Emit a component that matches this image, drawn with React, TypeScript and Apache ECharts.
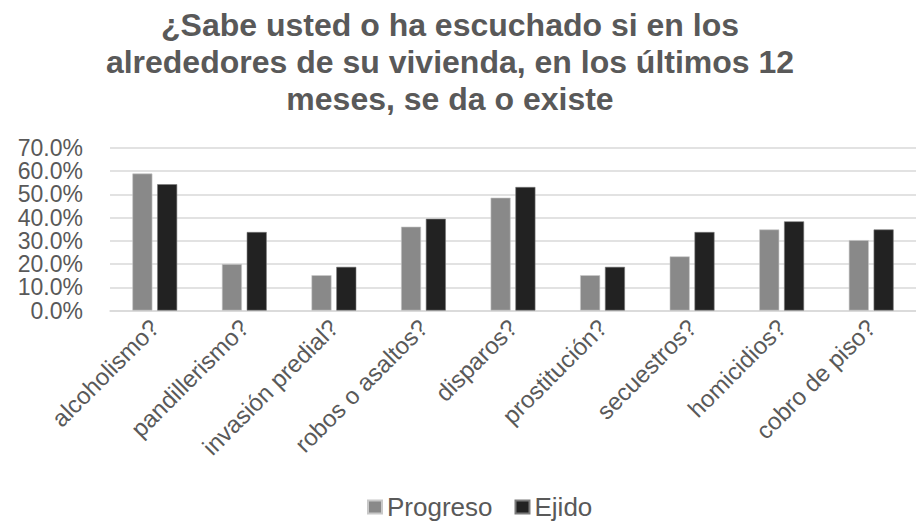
import React, { useEffect, useRef } from "react";
import * as echarts from "echarts";

const categories = [
  "alcoholismo?",
  "pandillerismo?",
  "invasión predial?",
  "robos o asaltos?",
  "disparos?",
  "prostitución?",
  "secuestros?",
  "homicidios?",
  "cobro de piso?",
];
const progreso = [59.0, 20.0, 15.2, 36.1, 48.6, 15.2, 23.3, 34.9, 30.3];
const ejido = [54.4, 33.8, 18.8, 39.5, 53.2, 18.8, 33.8, 38.4, 34.9];
const titleText =
  "¿Sabe usted o ha escuchado si en los\nalrededores de su vivienda, en los últimos 12\nmeses, se da o existe";

const FONT = "'Liberation Sans', Arial, sans-serif";
const TXT = "#595959";

export default function App() {
  const ref = useRef<HTMLDivElement>(null);
  useEffect(() => {
    if (!ref.current) return;
    const chart = echarts.init(ref.current, undefined, { renderer: "svg" });
    chart.setOption({
      animation: false,
      backgroundColor: "#ffffff",
      title: {
        text: titleText,
        left: 450,
        top: 6,
        padding: 0,
        textAlign: "center",
        textStyle: {
          fontFamily: FONT,
          fontSize: 32,
          fontWeight: "bold",
          color: TXT,
          lineHeight: 37,
        },
      },
      legend: {
        left: 367,
        top: 494,
        padding: 0,
        icon: "rect",
        itemWidth: 14,
        itemHeight: 13,
        itemGap: 22,
        textStyle: { fontFamily: FONT, fontSize: 26, color: TXT, lineHeight: 26 },
        data: ["Progreso", "Ejido"],
      },
      grid: { left: 110, top: 148, width: 816, height: 162.5, containLabel: false },
      xAxis: {
        type: "category",
        data: categories,
        axisLine: { lineStyle: { color: "#d9d9d9", width: 1.5 } },
        axisTick: { show: false },
        axisLabel: {
          rotate: 45,
          interval: 0,
          margin: 13,
          fontFamily: FONT,
          fontSize: 24,
          color: TXT,
        },
      },
      yAxis: {
        type: "value",
        min: 0,
        max: 70,
        interval: 10,
        axisLine: { show: false },
        axisTick: { show: false },
        splitLine: { lineStyle: { color: "#d9d9d9", width: 1.5 } },
        axisLabel: {
          margin: 27,
          showMinLabel: true,
          showMaxLabel: true,
          hideOverlap: false,
          fontFamily: FONT,
          fontSize: 23,
          lineHeight: 20,
          padding: 0,
          color: TXT,
          formatter: (v: number) => v.toFixed(1) + "%",
        },
      },
      series: [
        {
          name: "Progreso",
          type: "bar",
          data: progreso,
          barWidth: 20,
          barGap: "24%",
          itemStyle: { color: "#898989", borderColor: "#c8c8c8", borderWidth: 0.6 },
        },
        {
          name: "Ejido",
          type: "bar",
          data: ejido,
          barWidth: 20,
          itemStyle: { color: "#222222", borderColor: "#7a7a7a", borderWidth: 0.6 },
        },
      ],
    });
    return () => chart.dispose();
  }, []);
  return (
    <div
      ref={ref}
      style={{ position: "fixed", left: 0, top: 0, width: 916, height: 525 }}
    />
  );
}
